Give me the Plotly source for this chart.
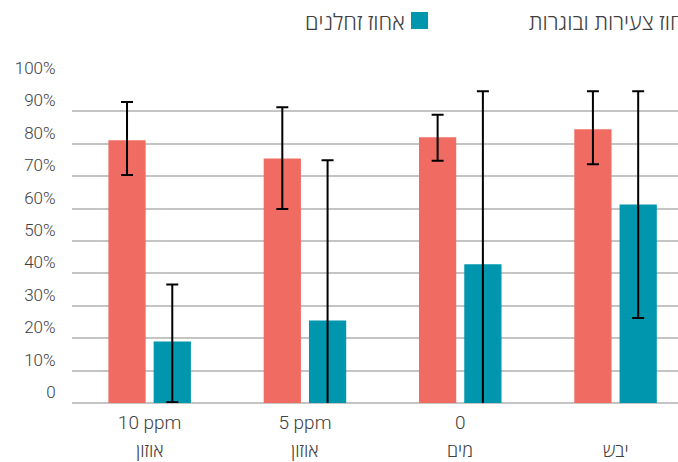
import plotly.graph_objects as go

# ---- data ----
categories = ["אוזון 10 ppm", "אוזון 5 ppm", "מים 0", "יבש"]
tick_line1 = ["10 ppm", "5 ppm", "0", ""]
tick_line2 = ["אוזון", "אוזון", "מים", "יבש"]

series_names = ["אחוז צעירות ובוגרות", "אחוז זחלנים"]
adults = [81.1, 75.5, 82.0, 84.5]
adults_err_plus = [11.8, 15.8, 7.0, 11.7]
adults_err_minus = [10.7, 15.6, 7.2, 10.8]
larvae = [19.0, 25.5, 42.8, 61.3]
larvae_err_plus = [17.6, 49.4, 53.4, 34.9]
larvae_err_minus = [18.8, 49.4, 53.4, 35.1]

y_tickvals = [0, 10, 20, 30, 40, 50, 60, 70, 80, 90, 100]
y_ticktext = ["0", "10%", "20%", "30%", "40%", "50%", "60%", "70%", "80%", "90%", "100%"]

# ---- style ----
W, H = 678, 462
ML, MR, MT, MB = 72, 0, 79, 59
PW = W - ML - MR
PH = H - MT - MB
CAT_PX = 155.3
FONT = "Roboto, 'Open Sans', sans-serif"
HEB = "'Open Sans', Roboto, sans-serif"
TXT = "#404040"
C_ADULT = "#F06C62"
C_LARVA = "#0096AE"
GRID = "#C4C4C4"


def px_x(px):
    return (px - ML) / PW


def px_y(py):
    return (H - MB - py) / PH


fig = go.Figure()
fig.add_trace(go.Bar(
    x=categories, y=adults, name=series_names[0], marker_color=C_ADULT,
    error_y=dict(type="data", symmetric=False, array=adults_err_plus,
                 arrayminus=adults_err_minus, color="black", thickness=2, width=6),
))
fig.add_trace(go.Bar(
    x=categories, y=larvae, name=series_names[1], marker_color=C_LARVA,
    error_y=dict(type="data", symmetric=False, array=larvae_err_plus,
                 arrayminus=larvae_err_minus, color="black", thickness=2, width=6),
))

x_range = [-0.5, -0.5 + PW / CAT_PX]

fig.update_layout(
    template="none",
    width=W, height=H,
    margin=dict(l=ML, r=MR, t=MT, b=MB, pad=0, autoexpand=False),
    paper_bgcolor="white", plot_bgcolor="white",
    barmode="group", bargap=0.417, bargroupgap=0.177,
    showlegend=False,
    font=dict(family=FONT, size=17, color=TXT, weight=300),
    xaxis=dict(
        type="category", range=x_range, tickmode="array", automargin=False,
        tickvals=categories, ticktext=tick_line1,
        showgrid=False, showline=False, zeroline=False, ticks="",
        tickfont=dict(family=FONT, size=19, color=TXT, weight=300),
        ticklabelstandoff=6,
    ),
    yaxis=dict(
        range=[0, 100], tickmode="array", tickvals=y_tickvals, ticktext=y_ticktext,
        automargin=False,
        showgrid=True, gridcolor=GRID, gridwidth=1.5,
        zeroline=True, zerolinecolor=GRID, zerolinewidth=1.5,
        showline=False, ticks="outside", ticklen=12, tickcolor="rgba(0,0,0,0)",
        tickfont=dict(family=FONT, size=17, color=TXT, weight=300),
        ticklabelshift=-11,
    ),
)

# second line of the category labels
for cat, lab in zip(categories, tick_line2):
    fig.add_annotation(xref="x", yref="paper", x=cat, y=px_y(450),
                       xanchor="center", yanchor="middle", showarrow=False,
                       borderpad=0,
                       text=lab, font=dict(family=HEB, size=18, color=TXT, weight=300))

# legend drawn right-to-left (text, then swatch on its right)
fig.add_shape(type="rect", xref="paper", yref="paper",
              x0=px_x(411), x1=px_x(428), y0=px_y(29), y1=px_y(12),
              fillcolor=C_LARVA, line=dict(width=0))
fig.add_annotation(xref="paper", yref="paper", x=px_x(407), y=px_y(21),
                   xanchor="right", yanchor="middle", showarrow=False,
                   text=series_names[1], font=dict(family=HEB, size=22, color=TXT, weight=300))
fig.add_annotation(xref="paper", yref="paper", x=px_x(527), y=px_y(21),
                   xanchor="left", yanchor="middle", showarrow=False,
                   text=series_names[0], font=dict(family=HEB, size=22, color=TXT, weight=300))

fig.write_html("out.html", config={"displayModeBar": False},
               post_script="document.body.style.margin='0px';")
